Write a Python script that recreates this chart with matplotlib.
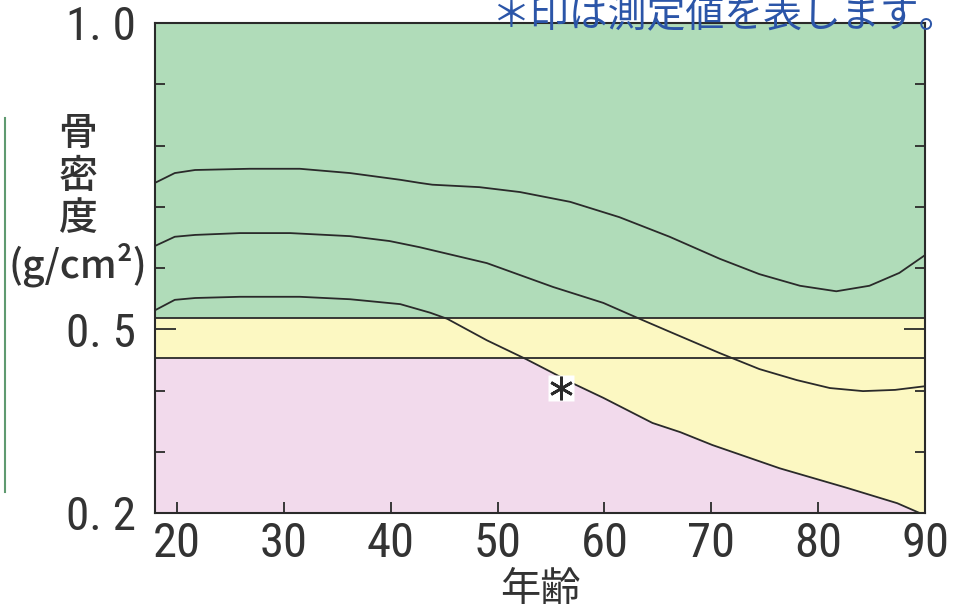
import numpy as np
import matplotlib
matplotlib.use("Agg")
import matplotlib.pyplot as plt
from matplotlib import font_manager
from matplotlib.ticker import FixedLocator, NullFormatter

plt.rcParams['font.family'] = ['Noto Sans CJK JP', 'DejaVu Sans']

_names = {f.name for f in font_manager.fontManager.ttflist}
NARROW = next((n for n in ['Liberation Sans Narrow', 'DejaVu Sans Condensed',
                           'Roboto Condensed', 'Liberation Sans'] if n in _names),
              'DejaVu Sans')
_is_narrow = NARROW in ('Liberation Sans Narrow', 'DejaVu Sans Condensed', 'Roboto Condensed')

# ---- data ----
age_upper = [17.95, 19.8, 21.7, 26.8, 31.5, 36.2, 40.9, 42.7, 43.9, 48.3, 52.1,
             56.8, 61.4, 66.1, 70.8, 74.5, 78.3, 81.7, 84.8, 87.6, 90.0]
bmd_upper = [0.739, 0.755, 0.760, 0.762, 0.762, 0.755, 0.744, 0.739, 0.736, 0.732, 0.724,
             0.708, 0.683, 0.651, 0.615, 0.590, 0.571, 0.562, 0.571, 0.592, 0.621]

age_mid = [17.95, 19.8, 21.7, 25.9, 30.6, 36.2, 39.9, 42.7, 49.0, 55.2, 59.9,
           63.3, 66.1, 70.8, 74.5, 78.0, 81.1, 84.2, 87.2, 90.0]
bmd_mid = [0.636, 0.651, 0.654, 0.657, 0.657, 0.652, 0.644, 0.634, 0.608, 0.569, 0.543,
           0.517, 0.496, 0.461, 0.435, 0.417, 0.404, 0.399, 0.401, 0.407]

age_low = [17.95, 19.8, 21.7, 25.9, 31.5, 36.2, 40.9, 43.7, 45.3, 49.0, 52.7,
           54.7, 57.0, 59.9, 64.5, 67.1, 70.1, 76.4, 82.7, 87.4, 89.5, 90.0]
bmd_low = [0.531, 0.548, 0.551, 0.553, 0.553, 0.549, 0.541, 0.527, 0.517, 0.482, 0.451,
           0.433, 0.412, 0.388, 0.347, 0.332, 0.311, 0.273, 0.241, 0.216, 0.200, 0.199]

thresholds = [0.518, 0.453]          # green/yellow, yellow/pink boundaries
measured_age = [55.9]
measured_bmd = [0.404]

x_ticks = [20, 30, 40, 50, 60, 70, 80, 90]
y_major = [0.2, 0.5, 1.0]
y_major_labels = ['0. 2', '0. 5', '1. 0']
y_minor = [0.3, 0.4, 0.6, 0.7, 0.8, 0.9]

GREEN = '#b0dcb9'
YELLOW = '#fcf8c2'
PINK = '#f2daec'
LINE = '#2a2a2a'
TXT = '#333333'

fig = plt.figure(figsize=(9.68, 6.12), dpi=100)
ax = fig.add_axes([155/968, 1-513/612, (925-155)/968, (513-23)/612])
ax.set_xlim(17.95, 90)
ax.set_ylim(0.2, 1.0)

# zones
ax.axhspan(thresholds[0], 1.0, color=GREEN, lw=0, zorder=0)
ax.axhspan(0.2, thresholds[0], color=YELLOW, lw=0, zorder=0)
ax.axhspan(0.2, thresholds[1], color=PINK, lw=0, zorder=0)
low = np.array(bmd_low)
ax.fill_between(age_low, low, thresholds[1], where=low < thresholds[1],
                interpolate=True, color=YELLOW, lw=0, zorder=0.5)

for t in thresholds:
    ax.axhline(t, color=LINE, lw=1.3, zorder=2)

for a, b in [(age_upper, bmd_upper), (age_mid, bmd_mid), (age_low, bmd_low)]:
    ax.plot(a, b, color=LINE, lw=1.3, zorder=3, solid_joinstyle='round')

# measured value
ax.plot(measured_age, measured_bmd, marker='s', ms=19, color='white', mec='none',
        ls='none', zorder=4, clip_on=False)
ax.plot(measured_age, measured_bmd, marker=(6, 2, 0), ms=17, color=LINE, mew=2.0,
        ls='none', zorder=5, clip_on=False)

# ticks
xfs = 35 if _is_narrow else 29
yfs = 34 if _is_narrow else 28
ax.xaxis.set_major_locator(FixedLocator(x_ticks))
ax.set_xticklabels([str(v) for v in x_ticks], fontfamily=NARROW,
                   fontsize=xfs, color=TXT)
ax.tick_params(axis='x', direction='in', length=8, width=1.3, color=LINE, pad=6,
               top=False, bottom=True)

ax.yaxis.set_major_locator(FixedLocator(y_major))
ax.yaxis.set_minor_locator(FixedLocator(y_minor))
ax.set_yticklabels(y_major_labels, fontfamily=NARROW, fontsize=yfs, color=TXT)
ax.yaxis.set_minor_formatter(NullFormatter())
ax.tick_params(axis='y', which='major', direction='in', length=15, width=1.3,
               color=LINE, left=True, right=True, pad=14)
ax.tick_params(axis='y', which='minor', direction='in', length=7.5, width=1.3,
               color=LINE, left=True, right=True)

for s in ax.spines.values():
    s.set_color(LINE)
    s.set_linewidth(1.5)
    s.set_zorder(6)

# y label (vertical stack)
for txt, yc in [('骨', 134), ('密', 177), ('度', 219), ('(g/cm²)', 265)]:
    fig.text(78/968, 1-yc/612, txt, ha='center', va='center', fontsize=28,
             color=TXT, fontweight='medium')

# x label
fig.text(540/968, 1-589/612, '年齢', ha='center', va='center', fontsize=29,
         color=TXT)

# note at top (cut off in the reference)
fig.text(958/968, 1-15/612, '＊印は測定値を表します。', ha='right', va='center',
         fontsize=28, color='#2b55a8')

# green side rule at left edge
fig.add_artist(plt.Line2D([5/968, 5/968], [1-118/612, 1-492/612],
                          transform=fig.transFigure, color='#5f9a70', lw=1.5))

fig.savefig('out.png', dpi=100, facecolor='white')
